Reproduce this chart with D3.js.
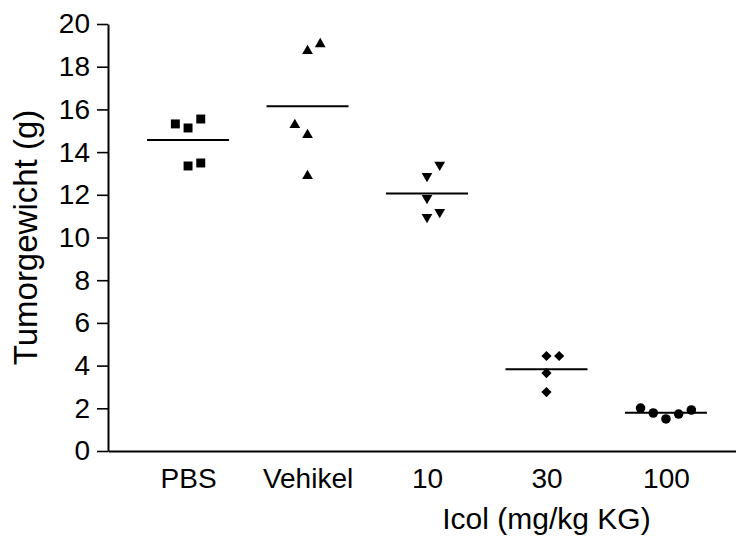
<!DOCTYPE html>
<html>
<head>
<meta charset="utf-8">
<script src="https://cdn.jsdelivr.net/npm/d3@7"></script>
<style>
  body { margin: 0; background: #fff; }
  text { font-family: "Liberation Sans", Arial, sans-serif; fill: #000; }
</style>
</head>
<body>
<div id="chart"></div>
<script>
// groups on the x axis
const categories = ['PBS', 'Vehikel', '10', '30', '100'];

// tumour weight per animal (g)
const pbsValues     = [15.32, 15.13, 15.55, 13.35, 13.49];
const vehikelValues = [18.74, 19.06, 15.27, 14.80, 12.88];
const icol10Values  = [12.88, 13.40, 11.85, 10.96, 11.19];
const icol30Values  = [4.45, 4.45, 3.65, 2.76];
const icol100Values = [2.01, 1.78, 1.50, 1.73, 1.92];

// scatter column of each dot inside its group (dot plot spread)
const pbsCols     = [-1, 0, 1, 0, 1];
const vehikelCols = [0, 1, -1, 0, 0];
const icol10Cols  = [0, 1, 0, 0, 1];
const icol30Cols  = [0, 1, 0, 0];
const icol100Cols = [-2, -1, 0, 1, 2];

const yTicks = [0, 2, 4, 6, 8, 10, 12, 14, 16, 18, 20];

const groups = [
  { name: 'PBS', values: pbsValues, cols: pbsCols, symbol: 'square' },
  { name: 'Vehikel', values: vehikelValues, cols: vehikelCols, symbol: 'triangle' },
  { name: '10', values: icol10Values, cols: icol10Cols, symbol: 'triangleDown' },
  { name: '30', values: icol30Values, cols: icol30Cols, symbol: 'diamond' },
  { name: '100', values: icol100Values, cols: icol100Cols, symbol: 'circle' }
];

var width = 736,
    height = 537;

var svg = d3.select('#chart')
            .append('svg')
            .attr('width', width)
            .attr('height', height);

var x = d3.scalePoint()
          .domain(categories)
          .range([108, 746])
          .padding(0.67);

var y = d3.scaleLinear()
          .domain([0, 20])
          .range([451, 24]);

// horizontal spread of dots within a group
var spread = d3.scaleLinear().domain([-1, 1]).range([-12.7, 12.7]);

// y axis
var yAxis = d3.axisLeft(y)
              .tickValues(yTicks)
              .tickSize(11)
              .tickPadding(7)
              .tickSizeOuter(0);

var gy = svg.append('g')
            .attr('transform', 'translate(108,0)')
            .call(yAxis);
gy.select('.domain').attr('stroke', '#000').attr('stroke-width', 2);
gy.selectAll('.tick line').attr('stroke', '#000').attr('stroke-width', 1.6);
gy.selectAll('.tick text')
  .style('font-size', '28px')
  .style('font-family', '"Liberation Sans", Arial, sans-serif')
  .attr('fill', '#000');

// x axis (no ticks)
var xAxis = d3.axisBottom(x)
              .tickSize(0)
              .tickPadding(17)
              .tickSizeOuter(0);

var gx = svg.append('g')
            .attr('transform', 'translate(0,451)')
            .call(xAxis);
gx.select('.domain').attr('stroke', '#000').attr('stroke-width', 2);
gx.selectAll('.tick text')
  .style('font-size', '28px')
  .style('font-family', '"Liberation Sans", Arial, sans-serif')
  .attr('fill', '#000');

// axis titles
svg.append('text')
   .attr('transform', 'translate(37,' + y(10) + ') rotate(-90)')
   .attr('text-anchor', 'middle')
   .style('font-size', '33px')
   .text('Tumorgewicht (g)');

svg.append('text')
   .attr('x', x('30'))
   .attr('y', 529)
   .attr('text-anchor', 'middle')
   .style('font-size', '30px')
   .text('Icol (mg/kg KG)');

// marker shapes
function markerPath(kind) {
  switch (kind) {
    case 'square':
      return d3.symbol().type(d3.symbolSquare).size(80)();
    case 'triangle':
    case 'triangleDown':
      return d3.symbol().type(d3.symbolTriangle).size(50)();
    case 'diamond':
      return d3.symbol().type(d3.symbolSquare).size(52)();
    case 'circle':
      return d3.symbol().type(d3.symbolCircle).size(72)();
  }
}
function markerRotation(kind) {
  if (kind === 'triangleDown') return 180;
  if (kind === 'diamond') return 45;
  return 0;
}

groups.forEach(function(g) {
  var cx = x(g.name);

  // mean line
  var m = d3.mean(g.values);
  svg.append('line')
     .attr('x1', cx - 41)
     .attr('x2', cx + 41)
     .attr('y1', y(m))
     .attr('y2', y(m))
     .attr('stroke', '#000')
     .attr('stroke-width', 2);

  svg.selectAll(null)
     .data(g.values)
     .enter()
     .append('path')
     .attr('d', markerPath(g.symbol))
     .attr('transform', function(d, i) {
       return 'translate(' + (cx + spread(g.cols[i])) + ',' + y(d) + ') rotate(' + markerRotation(g.symbol) + ')';
     })
     .attr('fill', '#000');
});
</script>
</body>
</html>
